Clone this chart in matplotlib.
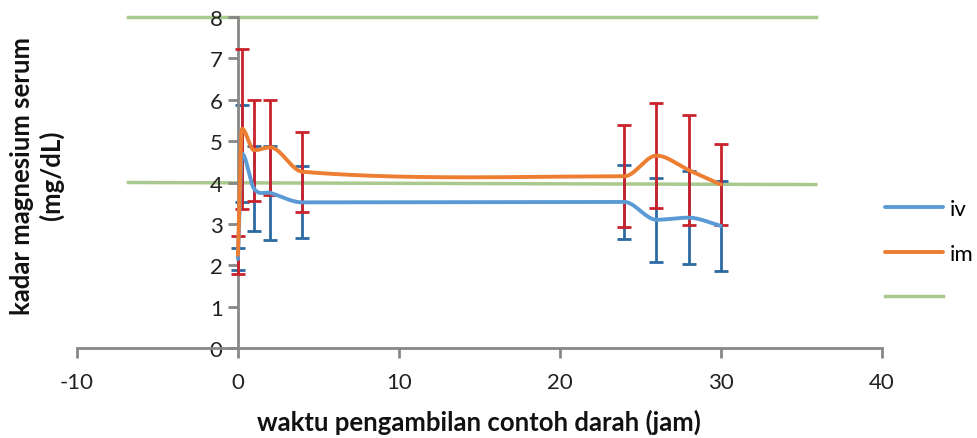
import numpy as np
import matplotlib.pyplot as plt

# Time points (jam) and serum magnesium (mg/dL)
waktu = [0, 0.25, 1, 2, 4, 24, 26, 28, 30]
iv_mean = [2.15, 4.70, 3.85, 3.75, 3.52, 3.53, 3.10, 3.15, 2.95]
iv_sd = [0.27, 1.17, 1.03, 1.13, 0.87, 0.90, 1.02, 1.12, 1.08]
im_mean = [2.25, 5.30, 4.78, 4.85, 4.26, 4.15, 4.65, 4.30, 3.95]
im_sd = [0.45, 1.93, 1.22, 1.15, 0.97, 1.23, 1.26, 1.33, 0.97]

# green reference lines
ref_x = [-6.8, 35.9]
ref_hi = [8.0, 8.0]
ref_lo = [4.0, 3.95]


def smooth(x, y, n=60):
    # smoothed line like Excel: cubic Hermite, flat at local peaks
    x = np.asarray(x, float)
    y = np.asarray(y, float)
    m = np.zeros(len(x))
    for i in range(len(x)):
        if i == 0:
            m[i] = (y[1] - y[0]) / (x[1] - x[0])
        elif i == len(x) - 1:
            m[i] = (y[-1] - y[-2]) / (x[-1] - x[-2])
        else:
            d0 = y[i] - y[i - 1]
            d1 = y[i + 1] - y[i]
            if d0 * d1 <= 0:
                m[i] = 0
            else:
                m[i] = (y[i + 1] - y[i - 1]) / (x[i + 1] - x[i - 1])
    xs, ys = [], []
    for i in range(len(x) - 1):
        h = x[i + 1] - x[i]
        t = np.linspace(0, 1, n)
        h00 = 2 * t ** 3 - 3 * t ** 2 + 1
        h10 = t ** 3 - 2 * t ** 2 + t
        h01 = -2 * t ** 3 + 3 * t ** 2
        h11 = t ** 3 - t ** 2
        xs.append(x[i] + t * h)
        ys.append(h00 * y[i] + h10 * h * m[i] + h01 * y[i + 1] + h11 * h * m[i + 1])
    return np.concatenate(xs), np.concatenate(ys)


plt.rcParams['font.family'] = ['Lato', 'DejaVu Sans']
plt.rcParams['axes.unicode_minus'] = False

fig = plt.figure(figsize=(9.78, 4.39), dpi=100)
ax = fig.add_axes([0.0787, 0.205, 0.823, 0.754])

blue = '#5B9BD5'
orange = '#ED7D31'
green = '#A9C98E'

ax.errorbar(waktu, iv_mean, yerr=iv_sd, fmt='none', ecolor='#2D6AA3',
            elinewidth=2, capsize=5, capthick=2, zorder=2)
ax.errorbar(waktu, im_mean, yerr=im_sd, fmt='none', ecolor='#C8232C',
            elinewidth=2, capsize=5, capthick=2, zorder=3)

sx, sy = smooth(waktu, iv_mean)
ax.plot(sx, sy, color=blue, lw=2.8, label='iv', zorder=4, solid_capstyle='round')
sx, sy = smooth(waktu, im_mean)
ax.plot(sx, sy, color=orange, lw=2.8, label='im', zorder=5, solid_capstyle='round')

ax.plot(ref_x, ref_hi, color=green, lw=2.5, label=' ', zorder=1, clip_on=False)
ax.plot(ref_x, ref_lo, color=green, lw=2.5, zorder=1)

ax.set_xlim(-10, 40)
ax.set_ylim(0, 8)
ax.set_xticks(range(-10, 41, 10))
ax.set_yticks(range(0, 9))

for s in ['top', 'right']:
    ax.spines[s].set_visible(False)
ax.spines['left'].set_position(('data', 0))
for s in ['left', 'bottom']:
    ax.spines[s].set_color('#878787')
    ax.spines[s].set_linewidth(2)
ax.tick_params(axis='both', colors='#878787', width=2, length=7,
               labelsize=16, labelcolor='#222222')
ax.tick_params(axis='y', pad=4)
ax.tick_params(axis='x', pad=10)

ax.set_xlabel('waktu pengambilan contoh darah (jam)', fontsize=18.5,
              fontweight='bold', color='#111111', labelpad=12)
fig.text(0.038, 0.6, 'kadar magnesium serum\n(mg/dL)', rotation=90,
         ha='center', va='center', fontsize=18.5, fontweight='bold',
         color='#111111', linespacing=1.2)

ax.legend(loc='center left', bbox_to_anchor=(1.004, 0.285), frameon=False,
          fontsize=16, handlelength=2.6, labelspacing=1.1, handletextpad=0.3,
          borderpad=0, borderaxespad=0)

fig.savefig('out.png', dpi=100)
